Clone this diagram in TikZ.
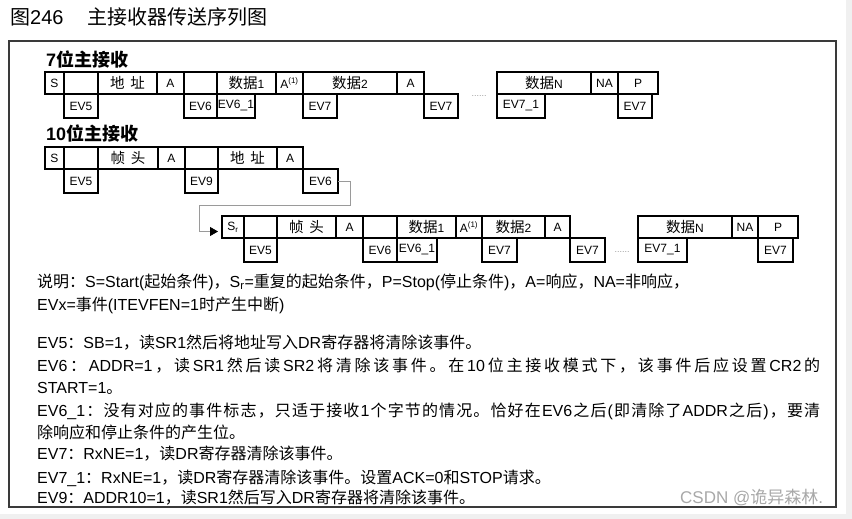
\documentclass[tikz,border=0pt]{standalone}
\usepackage{fontspec}
\setmainfont{Liberation Sans}
\newfontfamily\lat{Liberation Sans}
\newfontfamily\cjk{Noto Sans CJK SC}
\usetikzlibrary{arrows.meta,positioning}
\definecolor{framec}{HTML}{3A3A3A}
\definecolor{linkc}{HTML}{9A9A9A}
\definecolor{markc}{HTML}{A8A8A8}
\definecolor{stripc}{HTML}{F0F0F0}
% Chinese runs pick their own font
\XeTeXinterchartokenstate=1
\newXeTeXintercharclass\zhclass
\newcommand\zhrange[2]{\count255=#1 \loop\XeTeXcharclass\count255=\zhclass\relax
  \ifnum\count255<#2 \advance\count255 by 1 \repeat}
\zhrange{"3000}{"303F}
\zhrange{"4E00}{"9FFF}
\zhrange{"FF00}{"FFEF}
\XeTeXinterchartoks 0 \zhclass = {\hskip 0pt plus 1pt\cjk}
\XeTeXinterchartoks 4095 \zhclass = {\cjk}
\XeTeXinterchartoks \zhclass 0 = {\hskip 0pt plus 1pt\lat}
\XeTeXinterchartoks \zhclass 4095 = {\lat}
\XeTeXinterchartoks \zhclass \zhclass = {\hskip 0pt plus 1pt}
\newcommand\boxfont{\fontsize{12}{12}\selectfont}
\newcommand\bzh[1]{{\fontsize{14.5}{15}\selectfont#1}}

\begin{document}
\begin{tikzpicture}[x=1pt,y=-1pt,
    cell/.style={draw,line width=1.7pt,inner sep=0pt,outer sep=0pt,minimum height=22pt,font=\boxfont},
    ev/.style={cell,minimum height=24pt,anchor=north west},
    row/.style={font=\bfseries\fontsize{18}{18}\selectfont,anchor=west,inner sep=0pt},
    txt/.style={font=\fontsize{16}{16}\selectfont,anchor=base west,inner sep=0pt},
    dots/.style={font=\fontsize{9}{9}\selectfont,text=linkc,inner sep=0pt},
    link/.style={draw=linkc,line width=0.8pt,-{Triangle[length=8pt,width=9pt,color=black]},shorten >=4pt}]
  \useasboundingbox (0,0) rectangle (852,519);
  \fill[stripc] (846,0) rectangle (852,519);
  \fill[stripc] (0,514) rectangle (852,519);
  \node[anchor=west,inner sep=0pt,font=\fontsize{20}{20}\selectfont] (title) at (10,17) {图246\hspace{24pt}主接收器传送序列图};
  \draw[line width=1.5pt,framec] (9,41) rectangle (836,507);

  % 7 bit
  \node[row] (t7) at (46,60) {7位主接收};
  \node[cell,minimum width=19pt,anchor=north west] (a1) at (45,72) {S};
  \node[cell,minimum width=34pt,right=0pt of a1] (a2) {};
  \node[cell,minimum width=59pt,right=0pt of a2] (a3) {\bzh{地\hspace{6pt}址}};
  \node[cell,minimum width=27pt,right=0pt of a3] (a4) {A};
  \node[cell,minimum width=33pt,right=0pt of a4] (a5) {};
  \node[cell,minimum width=59pt,right=0pt of a5] (a6) {\bzh{数据}1};
  \node[cell,minimum width=27pt,right=0pt of a6] (a7) {A\textsuperscript{(1)}};
  \node[cell,minimum width=94pt,right=0pt of a7] (a8) {\bzh{数据}2};
  \node[cell,minimum width=27pt,right=0pt of a8] (a9) {A};
  \node[cell,minimum width=94pt,anchor=north west] (a10) at (497,72) {\bzh{数据}N};
  \node[cell,minimum width=27pt,right=0pt of a10] (a11) {NA};
  \node[cell,minimum width=40pt,right=0pt of a11] (a12) {P};
  \node[ev,minimum width=34pt] (ea1) at (a2.south west) {EV5};
  \node[ev,minimum width=33pt] (ea2) at (a5.south west) {EV6};
  \node[ev,minimum width=38pt] (ea3) at (a6.south west) {EV6\_1};
  \node[ev,minimum width=34pt] (ea4) at (a8.south west) {EV7};
  \node[ev,minimum width=34pt] (ea5) at (a9.south east) {EV7};
  \node[ev,minimum width=48pt] (ea6) at (a10.south west) {EV7\_1};
  \node[ev,minimum width=34pt] (ea7) at (a12.south west) {EV7};
  \node[dots] (ma) at (479,96) {......};

  % 10 bit
  \node[row] (t10) at (46,134) {10位主接收};
  \node[cell,minimum width=19pt,anchor=north west] (b1) at (45,147) {S};
  \node[cell,minimum width=34pt,right=0pt of b1] (b2) {};
  \node[cell,minimum width=60pt,right=0pt of b2] (b3) {\bzh{帧\hspace{6pt}头}};
  \node[cell,minimum width=27pt,right=0pt of b3] (b4) {A};
  \node[cell,minimum width=33pt,right=0pt of b4] (b5) {};
  \node[cell,minimum width=59pt,right=0pt of b5] (b6) {\bzh{地\hspace{6pt}址}};
  \node[cell,minimum width=26pt,right=0pt of b6] (b7) {A};
  \node[ev,minimum width=34pt] (eb1) at (b2.south west) {EV5};
  \node[ev,minimum width=33pt] (eb2) at (b5.south west) {EV9};
  \node[ev,minimum width=35pt] (eb3) at (b7.south east) {EV6};

  \node[cell,minimum width=22pt,anchor=north west] (c1) at (222,216) {S\textsubscript{r}};
  \node[cell,minimum width=33pt,right=0pt of c1] (c2) {};
  \node[cell,minimum width=59pt,right=0pt of c2] (c3) {\bzh{帧\hspace{6pt}头}};
  \node[cell,minimum width=27pt,right=0pt of c3] (c4) {A};
  \node[cell,minimum width=34pt,right=0pt of c4] (c5) {};
  \node[cell,minimum width=59pt,right=0pt of c5] (c6) {\bzh{数据}1};
  \node[cell,minimum width=26pt,right=0pt of c6] (c7) {A\textsuperscript{(1)}};
  \node[cell,minimum width=63pt,right=0pt of c7] (c8) {\bzh{数据}2};
  \node[cell,minimum width=25pt,right=0pt of c8] (c9) {A};
  \node[cell,minimum width=94pt,anchor=north west] (c10) at (638,216) {\bzh{数据}N};
  \node[cell,minimum width=26pt,right=0pt of c10] (c11) {NA};
  \node[cell,minimum width=40pt,right=0pt of c11] (c12) {P};
  \node[ev,minimum width=33pt] (ec1) at (c2.south west) {EV5};
  \node[ev,minimum width=34pt] (ec2) at (c5.south west) {EV6};
  \node[ev,minimum width=40pt] (ec3) at (c6.south west) {EV6\_1};
  \node[ev,minimum width=35pt] (ec4) at (c8.south west) {EV7};
  \node[ev,minimum width=35pt] (ec5) at (c9.south east) {EV7};
  \node[ev,minimum width=49pt] (ec6) at (c10.south west) {EV7\_1};
  \node[ev,minimum width=35pt] (ec7) at (c12.south west) {EV7};
  \node[dots] (mc) at (622,252) {......};

  \coordinate (bend) at (199,205);
  \draw[link] (eb3.east) -- ++(12,0) |- (bend) |- ([yshift=-4.5pt]c1.west);

  % notes
  \node[txt] (l1) at (37,287) {说明：S=Start(起始条件)，S\textsubscript{r}=重复的起始条件，P=Stop(停止条件)，A=响应，NA=非响应，};
  \node[txt] (l2) at (37,310) {EVx=事件(ITEVFEN=1时产生中断)};
  \node[txt] (l3) at (37,348) {EV5：SB=1，读SR1然后将地址写入DR寄存器将清除该事件。};
  \node[txt] (l4) at (37,371) {\makebox[783pt][s]{EV6：ADDR=1，读SR1然后读SR2将清除该事件。在10位主接收模式下，该事件后应设置CR2的}};
  \node[txt] (l5) at (37,393) {START=1。};
  \node[txt] (l6) at (37,416) {\makebox[783pt][s]{EV6\_1：没有对应的事件标志，只适于接收1个字节的情况。恰好在EV6之后(即清除了ADDR之后)，要清}};
  \node[txt] (l7) at (37,438) {除响应和停止条件的产生位。};
  \node[txt] (l8) at (37,459) {EV7：RxNE=1，读DR寄存器清除该事件。};
  \node[txt] (l9) at (37,483) {EV7\_1：RxNE=1，读DR寄存器清除该事件。设置ACK=0和STOP请求。};
  \node[txt] (l10) at (37,503) {EV9：ADDR10=1，读SR1然后写入DR寄存器将清除该事件。};
  \node[anchor=base west,inner sep=0pt,text=markc,font=\fontsize{17}{17}\selectfont] (mark) at (680,503) {CSDN @诡异森林.};
\end{tikzpicture}
\end{document}
